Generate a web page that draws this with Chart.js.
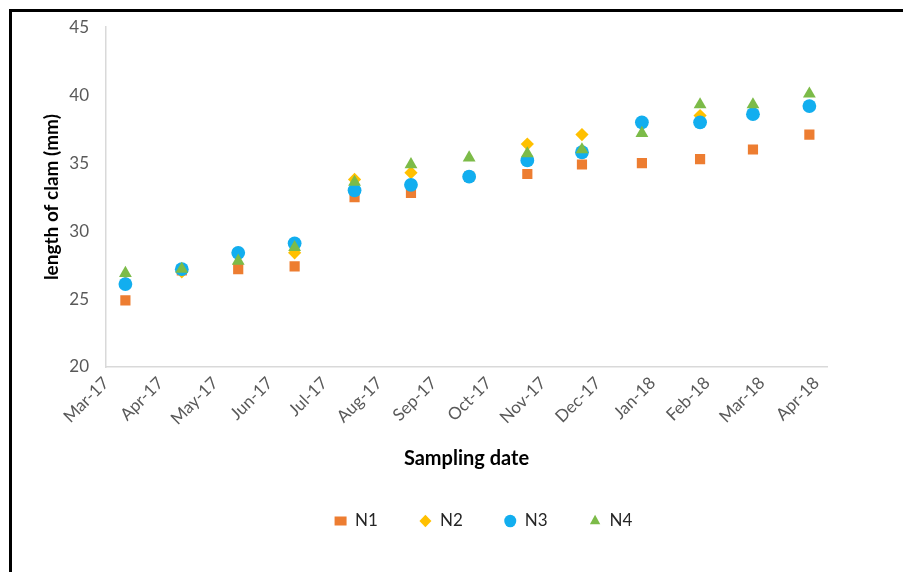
<!DOCTYPE html>
<html>
<head>
<meta charset="utf-8">
<script src="https://cdn.jsdelivr.net/npm/chart.js@4.4.1/dist/chart.umd.min.js"></script>
<style>
  html, body { margin: 0; padding: 0; background: #fff; }
  #wrap { position: relative; width: 903px; height: 572px; overflow: hidden; background: #fff; }
  #frame { position: absolute; left: 9px; top: 9px; right: -10px; bottom: -10px;
           border-top: 3px solid #000; border-left: 3px solid #000; pointer-events: none; }
  canvas { position: absolute; left: 0; top: 0; }
</style>
</head>
<body>
<div id="wrap">
  <canvas id="chart" width="903" height="572"></canvas>
  <div id="frame"></div>
</div>
<script>
// Sampling dates and shell lengths (mm) for the four stations
const sampleDates = ['2017-03-12', '2017-04-13', '2017-05-15', '2017-06-16', '2017-07-20',
                     '2017-08-21', '2017-09-23', '2017-10-26', '2017-11-26', '2017-12-30',
                     '2018-02-01', '2018-03-03', '2018-04-04'];
const n1 = [24.9, 27.1, 27.2, 27.4, 32.5, 32.8, 34.0, 34.2, 34.9, 35.0, 35.3, 36.0, 37.1];
const n2 = [26.2, 27.0, 28.4, 28.4, 33.8, 34.3, 34.0, 36.4, 37.1, 38.0, 38.5, 38.6, 39.2];
const n3 = [26.1, 27.2, 28.4, 29.1, 33.0, 33.4, 34.0, 35.2, 35.8, 38.0, 38.0, 38.6, 39.2];
const n4 = [26.9, 27.2, 27.8, 28.8, 33.6, 34.9, 35.4, 35.7, 36.0, 37.2, 39.3, 39.3, 40.1];

// Date axis: starts 1 Mar 2017, major unit of 31 days
const axisStart = '2017-03-01';
const axisEnd = '2018-04-14';
const tickStepDays = 31;
const tickLabels = ['Mar-17', 'Apr-17', 'May-17', 'Jun-17', 'Jul-17', 'Aug-17', 'Sep-17',
                    'Oct-17', 'Nov-17', 'Dec-17', 'Jan-18', 'Feb-18', 'Mar-18', 'Apr-18'];

const yTicks = { min: 20, max: 45, step: 5 };

const DAY = 86400000;
const dayOf = s => (Date.parse(s + 'T00:00:00Z') - Date.parse(axisStart + 'T00:00:00Z')) / DAY;
const points = vals => vals.map((v, i) => ({ x: dayOf(sampleDates[i]), y: v }));

const FONT = 'Lato, "Open Sans", "Liberation Sans", sans-serif';

// Later series are painted over earlier ones
const series = [
  { label: 'N1', data: n1, color: '#ED7D31', style: 'rect',     r: 7.2 },
  { label: 'N2', data: n2, color: '#FFC000', style: 'rectRot',  r: 6.6 },
  { label: 'N3', data: n3, color: '#12AEEF', style: 'circle',   r: 6.9 },
  { label: 'N4', data: n4, color: '#7CBB48', style: 'triangle', r: 7.4 }
];

// Shift the legend row horizontally under the plot
const legendNudge = {
  id: 'legendNudge',
  afterLayout(chart) {
    const dx = 64;
    chart.legend.left += dx;
    chart.legend.right += dx;
  }
};

new Chart(document.getElementById('chart'), {
  type: 'scatter',
  data: {
    datasets: series.map((s, i) => ({
      label: s.label,
      data: points(s.data),
      order: series.length - i,
      pointStyle: s.style,
      pointRadius: s.r,
      pointHoverRadius: s.r,
      backgroundColor: s.color,
      borderColor: s.color,
      pointBorderWidth: 0,
      borderWidth: 0
    }))
  },
  options: {
    responsive: false,
    animation: false,
    devicePixelRatio: 1,
    layout: { padding: { left: 12, right: 76, top: 24, bottom: 32.5 } },
    plugins: {
      tooltip: { enabled: false },
      legend: {
        position: 'bottom',
        labels: {
          usePointStyle: true,
          pointStyleWidth: 12,
          boxHeight: 9,
          padding: 41.5,
          color: '#262626',
          font: { family: FONT, size: 17 },
          sort: (a, b) => a.datasetIndex - b.datasetIndex
        }
      }
    },
    scales: {
      x: {
        type: 'linear',
        min: 0,
        max: dayOf(axisEnd),
        afterBuildTicks: scale => {
          scale.ticks = tickLabels.map((_, i) => ({ value: i * tickStepDays }));
        },
        afterFit: scale => { scale.height = 104; },
        ticks: {
          autoSkip: false,
          minRotation: 45,
          maxRotation: 45,
          padding: 6,
          color: '#595959',
          font: { family: FONT, size: 17 },
          callback: (value, index) => tickLabels[index]
        },
        grid: { display: false, drawTicks: false },
        border: { display: true, color: '#D9D9D9', width: 1.5 },
        title: {
          display: true,
          text: 'Sampling date',
          color: '#000',
          font: { family: FONT, size: 20, weight: 'bold' },
          padding: { top: 0, bottom: 0 }
        }
      },
      y: {
        min: yTicks.min,
        max: yTicks.max,
        afterFit: scale => { scale.width = 94; },
        ticks: {
          stepSize: yTicks.step,
          padding: 17,
          color: '#595959',
          font: { family: FONT, size: 17 }
        },
        grid: { display: false, drawTicks: false },
        border: { display: true, color: '#D9D9D9', width: 1.5 },
        title: {
          display: true,
          text: 'length of clam (mm)',
          color: '#000',
          font: { family: FONT, size: 19, weight: 'bold' },
          padding: { top: 28, bottom: 0 }
        }
      }
    }
  },
  plugins: [legendNudge]
});
</script>
</body>
</html>
